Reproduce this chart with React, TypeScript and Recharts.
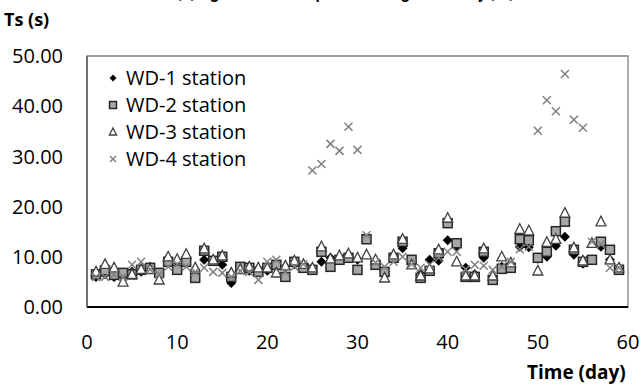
import { ScatterChart, Scatter, XAxis, YAxis, ReferenceArea } from "recharts";

const days = [
  1, 2, 3, 4, 5, 6, 7, 8, 9, 10, 11, 12, 13, 14, 15, 16, 17, 18, 19, 20,
  21, 22, 23, 24, 25, 26, 27, 28, 29, 30, 31, 32, 33, 34, 35, 36, 37, 38, 39, 40,
  41, 42, 43, 44, 45, 46, 47, 48, 49, 50, 51, 52, 53, 54, 55, 56, 57, 58, 59,
];

const wd1 = [
  6.0, 6.5, 6.0, 6.0, 7.0, 7.0, 8.0, 6.5, 9.5, 9.0, 9.5, 7.5, 9.4, 9.4, 8.4, 4.8, 7.5, 7.2, 7.5, 7.2,
  8.0, 8.0, 8.5, 8.0, 7.5, 9.0, 9.8, 9.5, 10.0, 9.4, 13.5, 9.0, 7.0, 9.8, 11.7, 9.0, 6.5, 9.4, 9.2, 13.3,
  12.0, 7.8, 6.5, 9.8, 6.0, 8.0, 8.4, 12.0, 11.9, 9.6, 10.0, 12.2, 14.0, 10.4, 8.6, 9.4, 12.0, 9.4, 7.4,
];
const wd2 = [
  6.5, 7.3, 6.4, 6.8, 6.5, 7.4, 7.8, 6.8, 9.0, 7.4, 9.0, 5.8, 11.2, 9.2, 10.0, 6.0, 8.0, 7.8, 7.0, 7.8,
  8.4, 6.0, 9.0, 7.8, 7.4, 11.0, 8.0, 9.4, 9.8, 7.4, 13.5, 8.4, 7.0, 9.8, 13.0, 9.4, 5.8, 7.2, 10.7, 16.7,
  12.7, 6.0, 6.0, 11.0, 5.4, 7.6, 7.8, 13.5, 13.3, 9.8, 11.0, 15.1, 17.0, 11.4, 9.0, 9.4, 13.0, 11.4, 7.4,
];
const wd3 = [
  7.0, 8.5, 7.8, 5.0, 6.5, 7.5, 7.5, 5.4, 10.0, 9.5, 10.5, 7.8, 11.6, 9.4, 10.2, 6.8, 7.5, 8.0, 7.8, 7.8,
  6.8, 8.2, 9.2, 8.5, 7.8, 12.0, 9.6, 10.2, 10.6, 9.8, 10.4, 9.4, 5.8, 10.4, 13.5, 8.4, 6.2, 7.6, 11.4, 17.7,
  9.0, 6.2, 6.2, 11.6, 6.2, 10.0, 8.8, 15.5, 15.2, 7.2, 12.9, 13.5, 18.7, 11.8, 9.2, 12.7, 17.0, 9.4, 7.8,
];
const wd4 = [
  6.0, 6.0, 6.5, 6.0, 8.4, 9.0, 7.5, 6.5, 8.0, 8.5, 8.0, 7.0, 7.8, 7.0, 6.8, 6.0, 7.2, 7.0, 5.4, 9.0,
  9.4, 7.0, 8.0, 8.5, 27.2, 28.5, 32.5, 31.1, 35.9, 31.3, 14.3, 8.8, 8.0, 9.0, 10.0, 8.5, 7.8, 8.4, 9.8, 11.0,
  11.0, 7.5, 8.4, 8.2, 7.4, 8.0, 9.0, 11.5, 12.0, 35.1, 41.2, 39.0, 46.4, 37.3, 35.7, 13.0, 12.5, 7.8, 7.8,
];

const seriesNames = ["WD-1 station", "WD-2 station", "WD-3 station", "WD-4 station"];
const xTicks = [0, 10, 20, 30, 40, 50, 60];
const yTicks = [0, 10, 20, 30, 40, 50];

const font = "'Open Sans', Lato, sans-serif";

const toPoints = (vals: number[]) => days.map((d, i) => ({ day: d, ts: vals[i] }));

const Diamond = ({ cx, cy, r = 5 }: any) => (
  <polygon points={`${cx},${cy - r} ${cx + r},${cy} ${cx},${cy + r} ${cx - r},${cy}`} fill="#000" />
);
const Square = ({ cx, cy, r = 4.5 }: any) => (
  <rect x={cx - r} y={cy - r} width={r * 2} height={r * 2} fill="#a6a6a6" stroke="#262626" strokeWidth={1.5} />
);
const Triangle = ({ cx, cy, r = 5.5 }: any) => (
  <polygon
    points={`${cx},${cy - r} ${cx + r * 0.9},${cy + r * 0.75} ${cx - r * 0.9},${cy + r * 0.75}`}
    fill="#fff"
    stroke="#404040"
    strokeWidth={1.3}
  />
);
const Cross = ({ cx, cy, r = 4 }: any) => (
  <g stroke="#808080" strokeWidth={1.5}>
    <line x1={cx - r} y1={cy - r} x2={cx + r} y2={cy + r} />
    <line x1={cx - r} y1={cy + r} x2={cx + r} y2={cy - r} />
  </g>
);

const shapes = [Diamond, Square, Triangle, Cross];
const legendR = [3.5, 3.5, 4, 3];

export default function App() {
  return (
    <div style={{ position: "absolute", left: 0, top: 0, width: 641, height: 388, background: "#fff", fontFamily: font }}>
      <svg width={641} height={6} style={{ position: "absolute", left: 0, top: 0 }}>
        <text x={177} y={-2} textLength={337} lengthAdjust="spacingAndGlyphs" fontSize={18} fontWeight="bold" fontFamily={font}>
          (b) Significant wave period during the survey (Ts)
        </text>
      </svg>
      <div style={{ position: "absolute", left: 4, top: 7, fontSize: 18, fontWeight: "bold", lineHeight: "24px" }}>Ts (s)</div>
      <div style={{ position: "absolute", left: 527, top: 360, fontSize: 19, fontWeight: "bold", lineHeight: "24px" }}>Time (day)</div>

      <ScatterChart width={641} height={388} margin={{ top: 56, right: 13, bottom: 51, left: 0 }}>
        <ReferenceArea x1={0} x2={60} y1={0} y2={50} fill="none" stroke="#7f7f7f" strokeWidth={1.3} />
        <XAxis
          type="number"
          dataKey="day"
          domain={[0, 60]}
          ticks={xTicks}
          height={30}
          axisLine={{ stroke: "#000", strokeWidth: 2 }}
          tickLine={false}
          tickMargin={22}
          tick={{ fill: "#000", fontSize: 20, fontFamily: font }}
        />
        <YAxis
          type="number"
          dataKey="ts"
          domain={[0, 50]}
          ticks={yTicks}
          width={87}
          axisLine={{ stroke: "#555", strokeWidth: 1.3 }}
          tickLine={false}
          tickMargin={18}
          tickFormatter={(v: number) => v.toFixed(2)}
          tick={{ fill: "#000", fontSize: 20, fontFamily: font }}
        />
        {[wd1, wd2, wd3, wd4].map((vals, i) => {
          const Shape = shapes[i];
          return (
            <Scatter
              key={seriesNames[i]}
              name={seriesNames[i]}
              data={toPoints(vals)}
              isAnimationActive={false}
              shape={(p: any) => <Shape cx={p.cx} cy={p.cy} />}
            />
          );
        })}
      </ScatterChart>

      <div style={{ position: "absolute", left: 106, top: 64 }}>
        {seriesNames.map((name, i) => {
          const Shape = shapes[i];
          return (
            <div key={name} style={{ display: "flex", alignItems: "center", height: 27, fontSize: 20 }}>
              <svg width={14} height={14} style={{ marginRight: 6 }}>
                <Shape cx={7} cy={7} r={legendR[i]} />
              </svg>
              <span>{name}</span>
            </div>
          );
        })}
      </div>
    </div>
  );
}
